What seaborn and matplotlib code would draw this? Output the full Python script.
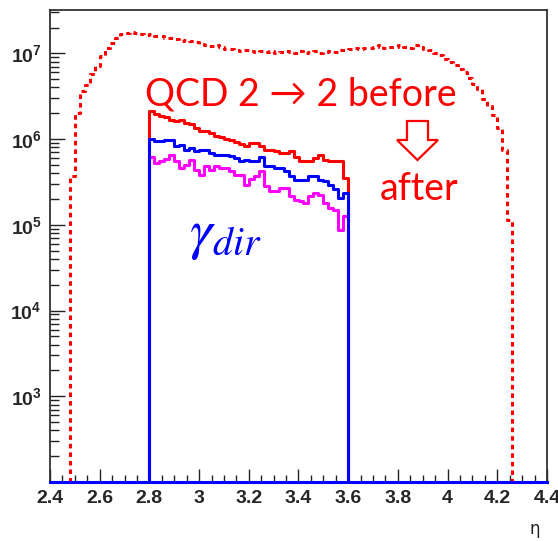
import numpy as np
import pandas as pd
import matplotlib
matplotlib.use("Agg")
import matplotlib.pyplot as plt
import seaborn as sns
from matplotlib.patches import Polygon
from matplotlib.ticker import FixedLocator, NullFormatter

# ---------------- data ----------------
bin_width = 0.02
x_range = (2.4, 4.4)
before_start = 2.48
before_vals = [
    3.7e5, 2.0e6, 3.6e6, 4.3e6, 5.7e6, 7.1e6, 9.3e6, 1.16e7, 1.31e7, 1.49e7,
    1.67e7, 1.71e7, 1.75e7, 1.73e7, 1.67e7, 1.64e7, 1.66e7, 1.58e7, 1.60e7, 1.50e7,
    1.52e7, 1.45e7, 1.38e7, 1.42e7, 1.38e7, 1.36e7, 1.30e7, 1.26e7, 1.22e7, 1.24e7,
    1.18e7, 1.13e7, 1.11e7, 1.08e7, 1.06e7, 1.08e7, 1.05e7, 1.04e7, 1.07e7, 1.03e7,
    1.05e7, 1.02e7, 1.04e7, 1.06e7, 1.03e7, 1.02e7, 1.05e7, 1.00e7, 1.03e7, 1.06e7,
    1.02e7, 1.04e7, 1.06e7, 1.04e7, 1.08e7, 1.10e7, 1.12e7, 1.14e7, 1.13e7, 1.15e7,
    1.14e7, 1.18e7, 1.25e7, 1.15e7, 1.17e7, 1.20e7, 1.25e7, 1.20e7, 1.15e7, 1.25e7,
    1.20e7, 1.12e7, 1.08e7, 1.00e7, 9.5e6, 8.6e6, 8.0e6, 7.4e6, 6.6e6, 6.0e6,
    5.1e6, 4.4e6, 3.8e6, 2.9e6, 2.4e6, 1.9e6, 1.36e6, 7.5e5, 1.15e5,
]
after_start = 2.8
red_vals = [
    2.11e6, 1.94e6, 1.88e6, 1.82e6, 1.66e6, 1.62e6, 1.66e6, 1.52e6, 1.48e6, 1.35e6,
    1.23e6, 1.23e6, 1.18e6, 1.08e6, 1.06e6, 1.00e6, 9.7e5, 9.2e5, 8.85e5, 8.2e5,
    9.0e5, 9.0e5, 8.2e5, 7.5e5, 7.4e5, 7.2e5, 6.9e5, 6.9e5, 7.2e5, 6.2e5,
    5.5e5, 5.5e5, 5.5e5, 6.0e5, 6.6e5, 5.75e5, 5.5e5, 5.5e5, 5.5e5, 3.5e5,
]
blue_vals = [
    9.9e5, 9.4e5, 9.4e5, 9.7e5, 9.7e5, 8.2e5, 8.6e5, 7.5e5, 7.9e5, 7.2e5,
    7.5e5, 7.5e5, 6.9e5, 6.6e5, 6.6e5, 6.6e5, 6.3e5, 6.0e5, 5.5e5, 5.75e5,
    5.5e5, 5.5e5, 6.1e5, 4.8e5, 4.8e5, 4.6e5, 4.6e5, 4.2e5, 3.7e5, 3.36e5,
    3.36e5, 3.36e5, 3.74e5, 3.74e5, 3.36e5, 3.2e5, 2.94e5, 2.6e5, 2.05e5, 2.33e5,
]
magenta_vals = [
    6.1e5, 5.3e5, 5.5e5, 5.9e5, 6.6e5, 5.5e5, 4.6e5, 5.0e5, 5.75e5, 4.4e5,
    3.85e5, 4.8e5, 4.4e5, 4.8e5, 4.6e5, 4.6e5, 4.2e5, 3.85e5, 3.85e5, 2.94e5,
    3.4e5, 3.67e5, 4.2e5, 2.8e5, 2.46e5, 2.46e5, 2.7e5, 2.65e5, 2.14e5, 1.96e5,
    1.88e5, 1.8e5, 2.14e5, 2.35e5, 2.24e5, 1.8e5, 1.56e5, 1.5e5, 8.8e4, 1.26e5,
]
x_ticks = [2.4, 2.6, 2.8, 3.0, 3.2, 3.4, 3.6, 3.8, 4.0, 4.2, 4.4]
x_tick_labels = ["2.4", "2.6", "2.8", "3", "3.2", "3.4", "3.6", "3.8", "4", "4.2", "4.4"]
y_ticks = [1e3, 1e4, 1e5, 1e6, 1e7]
y_tick_labels = [r"$\mathbf{10^{3}}$", r"$\mathbf{10^{4}}$", r"$\mathbf{10^{5}}$",
                 r"$\mathbf{10^{6}}$", r"$\mathbf{10^{7}}$"]
y_range = (100, 3.2e7)

# ---------------- build full histograms (zero outside filled range) ----------------
edges = np.round(np.arange(x_range[0], x_range[1] + bin_width / 2, bin_width), 4)
centers = (edges[:-1] + edges[1:]) / 2
nb = len(centers)

def full(vals, start):
    arr = np.zeros(nb)
    i0 = int(round((start - x_range[0]) / bin_width))
    arr[i0:i0 + len(vals)] = vals
    return arr

df = pd.DataFrame({
    "eta": centers,
    "before": full(before_vals, before_start),
    "red": full(red_vals, after_start),
    "magenta": full(magenta_vals, after_start),
    "blue": full(blue_vals, after_start),
})

# ---------------- style ----------------
sns.set_style("white")
plt.rcParams["mathtext.fontset"] = "custom"
plt.rcParams["mathtext.bf"] = "Liberation Sans:bold"
plt.rcParams["mathtext.rm"] = "Liberation Sans"
plt.rcParams["font.family"] = ["Liberation Sans", "DejaVu Sans"]

fig = plt.figure(figsize=(5.58, 5.41), dpi=100)
ax = fig.add_axes([50 / 558, 1 - 482 / 541, 497 / 558, 472 / 541])
ax.set_yscale("log")

common = dict(x="eta", bins=list(edges), element="step", fill=False, ax=ax, legend=False)
sns.histplot(data=df, weights="before", color="#ff0000", linewidth=2.2,
             linestyle=(0, (1.5, 1.3)), **common)
sns.histplot(data=df, weights="red", color="#ff0000", linewidth=2.2, **common)
sns.histplot(data=df, weights="magenta", color="#ff00ff", linewidth=2.2, **common)
sns.histplot(data=df, weights="blue", color="#0000ff", linewidth=2.2, **common)

ax.set_xlim(*x_range)
ax.set_ylim(*y_range)
ax.set_xlabel("")
ax.set_ylabel("")

# ticks
ax.set_xticks(x_ticks)
ax.set_xticklabels(x_tick_labels, fontweight="bold", fontsize=14)
ax.xaxis.set_minor_locator(FixedLocator(np.arange(2.4, 4.41, 0.05)))
ax.yaxis.set_major_locator(FixedLocator(y_ticks))
ax.set_yticklabels(y_tick_labels, fontsize=14)
minors = [m * 10 ** e for e in range(2, 8) for m in range(2, 10)]
ax.yaxis.set_minor_locator(FixedLocator(minors))
ax.yaxis.set_minor_formatter(NullFormatter())
ax.tick_params(axis="both", which="both", direction="in", color="#222222",
               bottom=True, left=True, top=False, right=False, width=1.0)
ax.tick_params(axis="x", which="major", length=9.5, pad=6)
ax.tick_params(axis="x", which="minor", length=5)
ax.tick_params(axis="y", which="major", length=11, pad=6)
ax.tick_params(axis="y", which="minor", length=6.5)

for s in ["top", "right", "left"]:
    ax.spines[s].set_color("#333333")
    ax.spines[s].set_linewidth(1.3)
ax.spines["bottom"].set_color("#0000ff")
ax.spines["bottom"].set_linewidth(2.2)

# annotations
ax.text(0.191, 0.797, "QCD 2 \u2192 2 before", transform=ax.transAxes, color="#ff0000",
        fontsize=27, family=["Lato", "DejaVu Sans"], va="baseline", ha="left")
ax.text(0.664, 0.597, "after", transform=ax.transAxes, color="#ff0000",
        fontsize=27, family=["Lato", "DejaVu Sans"], va="baseline", ha="left")
ax.text(0.280, 0.495, r"$\gamma_{dir}$", transform=ax.transAxes, color="#0000ff",
        fontsize=41, math_fontfamily="stix", va="baseline", ha="left")
arrow_pts = [(0.7183, 0.7648), (0.7606, 0.7648), (0.7606, 0.7246), (0.7807, 0.7246),
             (0.7394, 0.6822), (0.6982, 0.7246), (0.7183, 0.7246)]
ax.add_patch(Polygon(arrow_pts, closed=True, fill=False, edgecolor="#ff0000",
                     linewidth=1.6, transform=ax.transAxes))
ax.text(0.985, -0.08, "\u03b7", transform=ax.transAxes, fontsize=12,
        ha="right", va="top", color="#222222", family=["DejaVu Sans"])

fig.savefig("out.png", dpi=100)
